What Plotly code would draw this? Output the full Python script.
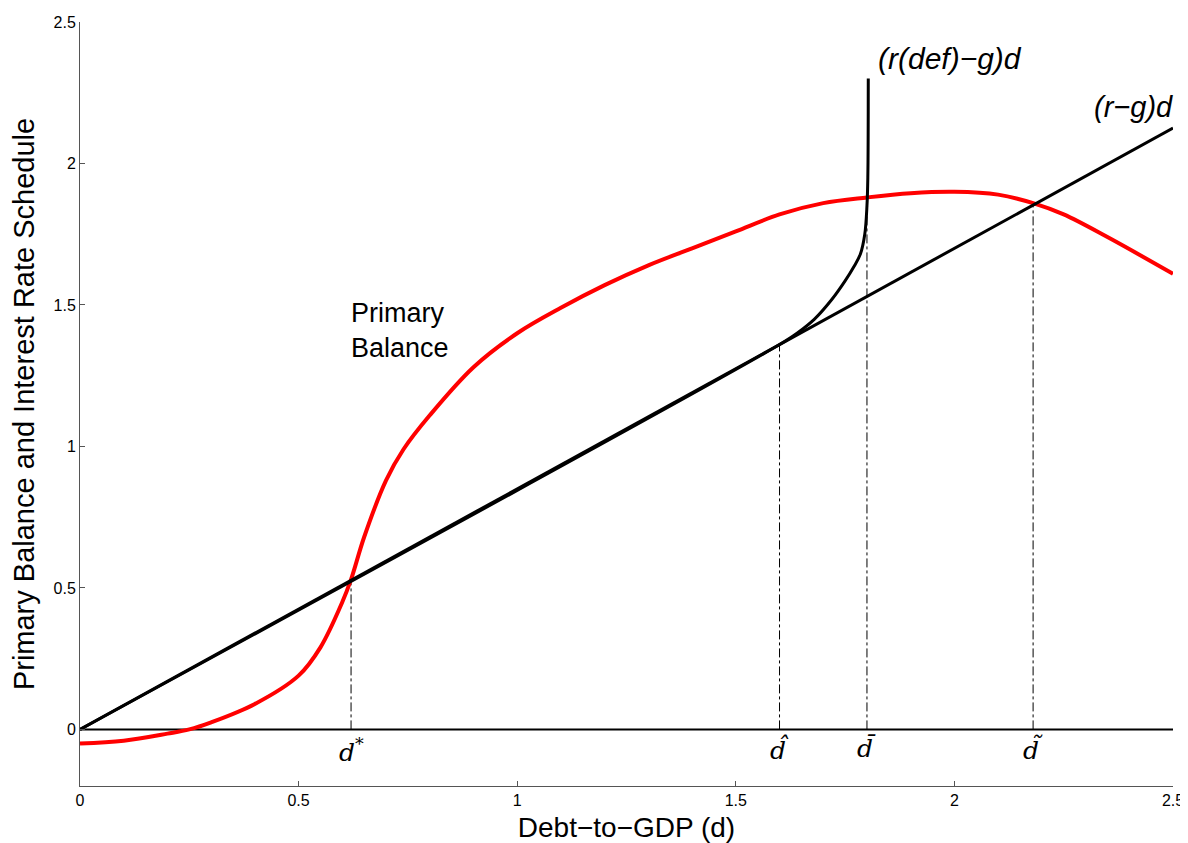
import plotly.graph_objects as go

# Primary balance (red)
pb_d = [0.0, 0.1, 0.2, 0.25, 0.3, 0.4, 0.5, 0.55, 0.6, 0.62, 0.65, 0.7, 0.74, 0.8, 0.9, 1.0, 1.1, 1.2, 1.3, 1.4, 1.5, 1.6, 1.7, 1.8, 1.9, 2.0, 2.1, 2.18, 2.25, 2.35, 2.5]
pb_v = [-0.05, -0.04, -0.015, 0.0, 0.025, 0.09, 0.19, 0.29, 0.45, 0.53, 0.68, 0.88, 0.99, 1.11, 1.28, 1.40, 1.49, 1.57, 1.64, 1.70, 1.76, 1.82, 1.86, 1.88, 1.895, 1.90, 1.89, 1.86, 1.82, 1.74, 1.61]

# (r-g)d line
rg_d = [0.0, 2.5]
rg_v = [0.0, 2.125]

# (r(def)-g)d curve
rdef_d = [0.0, 1.6, 1.64, 1.68, 1.72, 1.75, 1.77, 1.785, 1.795, 1.8, 1.802, 1.803]
rdef_v = [0.0, 1.36, 1.40, 1.45, 1.52, 1.585, 1.635, 1.68, 1.75, 1.85, 1.95, 2.3]

# reference levels
ref_names = ["<i>d</i><sup>*</sup>", "<i>d\u0302</i>", "<i>d\u0304</i>", "<i>d\u0303</i>"]
ref_d = [0.62, 1.6, 1.8, 2.18]
ref_top = [0.53, 1.36, 1.88, 1.86]

ticks = [0, 0.5, 1, 1.5, 2, 2.5]
tick_text = ["0", "0.5", "1", "1.5", "2", "2.5"]

fig = go.Figure()

for d, top in zip(ref_d, ref_top):
    fig.add_trace(go.Scatter(x=[d, d], y=[0, top], mode="lines",
                             line=dict(color="black", width=1, dash="dashdot"),
                             showlegend=False, hoverinfo="skip"))

fig.add_trace(go.Scatter(x=[0, 2.5], y=[0, 0], mode="lines",
                         line=dict(color="black", width=2), showlegend=False))
fig.add_trace(go.Scatter(x=pb_d, y=pb_v, mode="lines", line_shape="spline",
                         line=dict(color="red", width=4), showlegend=False))
fig.add_trace(go.Scatter(x=rg_d, y=rg_v, mode="lines",
                         line=dict(color="black", width=3), showlegend=False))
fig.add_trace(go.Scatter(x=rdef_d, y=rdef_v, mode="lines", line_shape="spline",
                         line=dict(color="black", width=3), showlegend=False))

for name, d in zip(ref_names, ref_d):
    fig.add_annotation(x=d, y=-0.01, text=name, showarrow=False, yanchor="top",
                       font=dict(family="DejaVu Serif", size=25, color="black"))

fig.add_annotation(x=0.615, y=1.41, text="Primary<br>Balance", showarrow=False,
                   xanchor="left", align="left",
                   font=dict(family="Liberation Sans", size=27, color="black"))
fig.add_annotation(x=1.82, y=2.37, text="<i>(r(def)\u2212g)d</i>", showarrow=False,
                   xanchor="left", font=dict(family="Liberation Sans", size=30, color="black"))
fig.add_annotation(x=2.5, y=2.2, text="<i>(r\u2212g)d</i>", showarrow=False,
                   xanchor="right", xshift=2,
                   font=dict(family="Liberation Sans", size=29, color="black"))

fig.update_layout(
    width=1180, height=835,
    margin=dict(l=72, r=15, t=14, b=57),
    plot_bgcolor="white", paper_bgcolor="white",
    font=dict(family="Liberation Sans", color="black"),
)
fig.update_xaxes(range=[0, 2.5], tickvals=ticks, ticktext=tick_text,
                 ticks="inside", ticklen=5, tickcolor="#555", showline=True,
                 linecolor="#555", linewidth=1, showgrid=False, zeroline=False,
                 automargin=False,
                 tickfont=dict(size=16), title=dict(text="Debt\u2212to\u2212GDP (d)", font=dict(size=28), standoff=10))
fig.update_yaxes(range=[-0.2, 2.5], tickvals=ticks, ticktext=tick_text,
                 ticks="inside", ticklen=5, tickcolor="#555", showline=True,
                 linecolor="#555", linewidth=1, showgrid=False, zeroline=False,
                 automargin=False,
                 tickfont=dict(size=16), title=dict(text="Primary Balance and Interest Rate Schedule", font=dict(size=29), standoff=14))

fig.write_html("out.html")
